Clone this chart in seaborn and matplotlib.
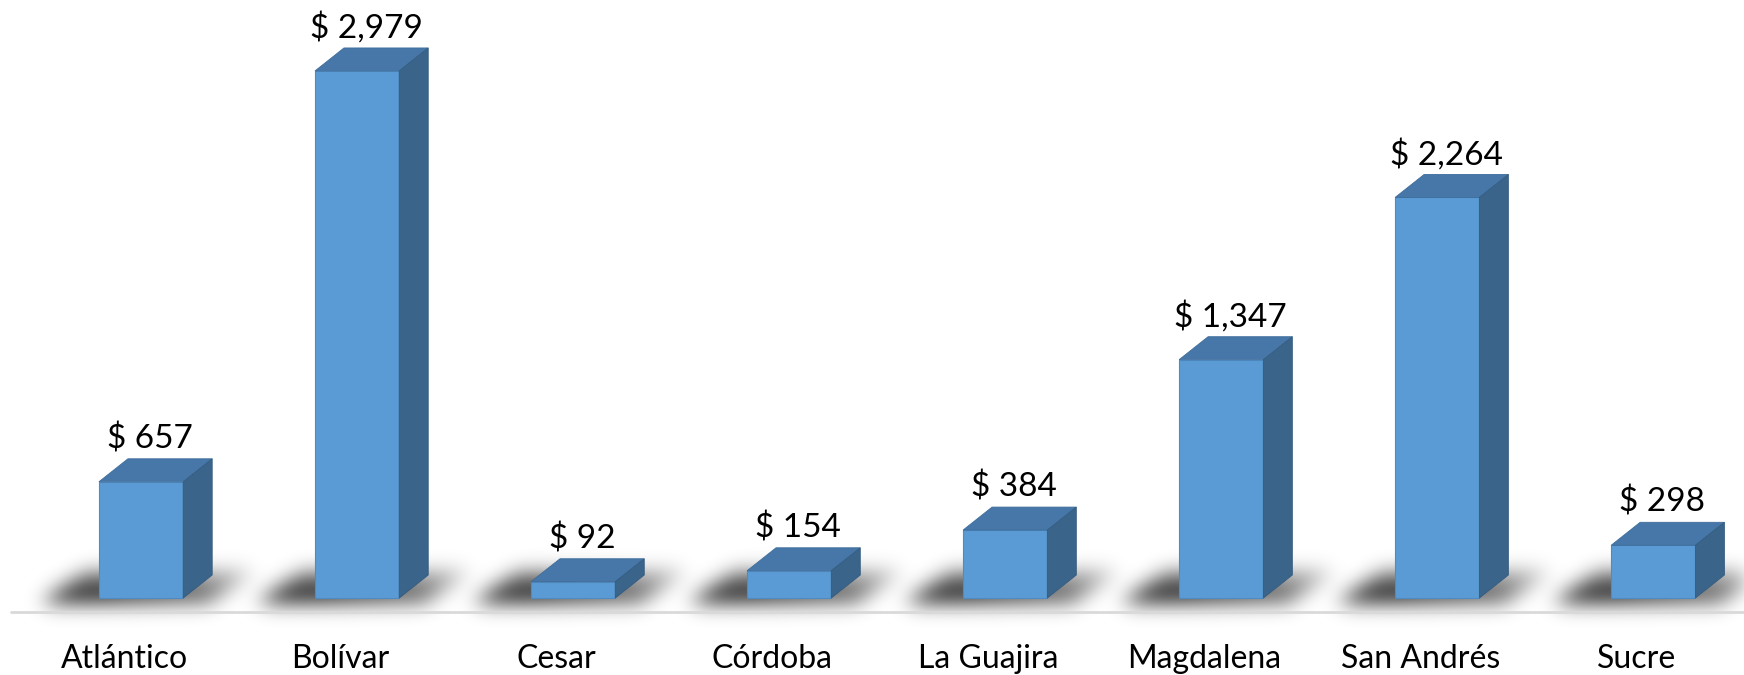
import numpy as np
import pandas as pd
import matplotlib
matplotlib.use('Agg')
import matplotlib.pyplot as plt
import matplotlib.transforms as mtransforms
import seaborn as sns
from matplotlib.patches import Polygon
from matplotlib.path import Path

departamentos = ['Atlántico', 'Bolívar', 'Cesar', 'Córdoba', 'La Guajira',
                 'Magdalena', 'San Andrés', 'Sucre']
valores = [657, 2979, 92, 154, 384, 1347, 2264, 298]

front_color = '#5B9BD5'
top_color = '#4677A8'
side_color = '#3A6489'

sns.set_style('white')
plt.rcParams['font.family'] = ['Lato', 'DejaVu Sans']

W, H = 1744, 675
fig = plt.figure(figsize=(W / 100, H / 100), dpi=100)
ax = fig.add_axes([0, 0, 1, 1])

df = pd.DataFrame({'depto': departamentos, 'valor': valores})
sns.barplot(data=df, x='depto', y='valor', ax=ax, color=front_color,
            saturation=1, width=0.39, edgecolor='#4f8ac2', linewidth=0.8,
            zorder=3)

ax.set_xlim(-0.653, 7.42)
ax.set_ylim(-435, 3380)
ax.axis('off')

# depth of the 3d effect, in pixels
dx_px, dy_px = 29, 23


def to_data(pts):
    return ax.transData.inverted().transform(pts)


bars = list(ax.patches)

# blurred floor shadows (built in pixel space)
xs = np.arange(W) + 0.5
ys = np.arange(H) + 0.5
gx, gy = np.meshgrid(xs, ys)
grid = np.column_stack([gx.ravel(), gy.ravel()])
mask = np.zeros(H * W)
for b in bars:
    pl, py = ax.transData.transform((b.get_x(), 0))
    pr = ax.transData.transform((b.get_x() + b.get_width(), 0))[0]
    poly = Path([(pl - 58, py - 5), (pr + 25, py - 5),
                 (pr + dx_px + 42, py + 27), (pl - 12, py + 27)])
    inside = poly.contains_points(grid).astype(float)
    # darker towards the floor line and on the left
    shade_y = np.clip(1.0 - (gy.ravel() - py) / 55.0, 0.4, 1.0)
    shade_x = np.clip(1.0 - (gx.ravel() - pl) / 350.0, 0.6, 1.0)
    mask = np.maximum(mask, inside * shade_y * shade_x)
mask = mask.reshape(H, W)

sigma = 10
k = np.arange(-3 * sigma, 3 * sigma + 1)
kern = np.exp(-k ** 2 / (2 * sigma ** 2))
kern /= kern.sum()
mask = np.apply_along_axis(lambda r: np.convolve(r, kern, mode='same'), 1, mask)
mask = np.apply_along_axis(lambda c: np.convolve(c, kern, mode='same'), 0, mask)

rgba = np.zeros((H, W, 4))
rgba[..., 3] = np.clip(0.92 * mask, 0, 1)
x0, x1 = ax.get_xlim()
y0, y1 = ax.get_ylim()
ax.imshow(rgba, extent=(x0, x1, y0, y1), origin='lower', aspect='auto',
          zorder=1, interpolation='nearest')
ax.set_xlim(x0, x1)
ax.set_ylim(y0, y1)

# baseline
base_y = to_data([(0, H - 612)])[0][1]
ax.plot([to_data([(11, 0)])[0][0], x1], [base_y, base_y], color='#d9d9d9',
        lw=2, zorder=2)

for b, v in zip(bars, valores):
    xl, xr = b.get_x(), b.get_x() + b.get_width()
    (pl, pb), (pr, pt) = ax.transData.transform([(xl, 0), (xr, v)])
    top = to_data([(pl, pt), (pr, pt), (pr + dx_px, pt + dy_px),
                   (pl + dx_px, pt + dy_px)])
    side = to_data([(pr, pb), (pr + dx_px, pb + dy_px),
                    (pr + dx_px, pt + dy_px), (pr, pt)])
    ax.add_patch(Polygon(top, closed=True, facecolor=top_color,
                         edgecolor='#3f6d9b', lw=0.6, zorder=3))
    ax.add_patch(Polygon(side, closed=True, facecolor=side_color,
                         edgecolor='#345c80', lw=0.6, zorder=3))
    lx, ly = to_data([((pl + pr) / 2 + 9, pt + dy_px + 20)])[0]
    ax.text(lx, ly, f'$ {v:,}', ha='center', va='center', fontsize=24,
            color='black', zorder=4)

lab_tr = mtransforms.blended_transform_factory(ax.transData, ax.transAxes)
for i, name in enumerate(departamentos):
    px = ax.transData.transform((i, 0))[0] - 17
    ax.text(to_data([(px, 0)])[0][0], 16 / H, name, ha='center', va='center',
            fontsize=23, color='black', transform=lab_tr)

fig.savefig('out.png', dpi=100, facecolor='white')
